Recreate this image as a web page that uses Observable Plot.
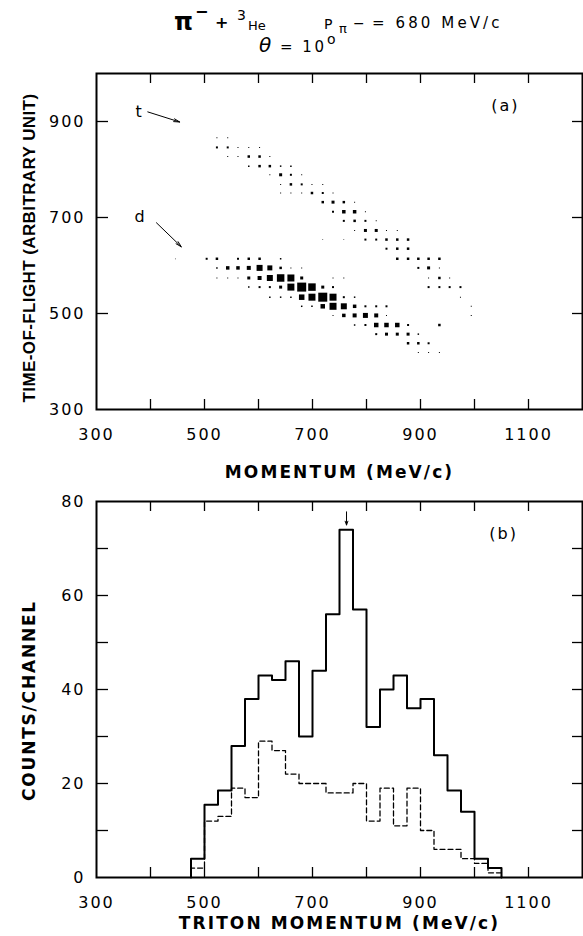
<!DOCTYPE html>
<html><head><meta charset="utf-8">
<script src="https://cdn.jsdelivr.net/npm/d3@7"></script>
<script src="https://cdn.jsdelivr.net/npm/@observablehq/plot@0.6"></script>
<style>
html,body{margin:0;padding:0;background:#fff;}
#wrap{position:relative;width:583px;height:936px;overflow:hidden;font-family:"DejaVu Sans",sans-serif;color:#000;}
.t{position:absolute;white-space:nowrap;line-height:1;}
#pa{position:absolute;left:0;top:55px;}
#pb{position:absolute;left:0;top:490px;}
</style></head><body><div id="wrap">
<div id="pa"></div><div id="pb"></div>
<span class="t" style="left:174px;top:9.7px;font-size:24px;font-weight:bold;">π</span>
<span class="t" style="left:195px;top:4px;font-size:16px;font-weight:bold;">−</span>
<span class="t" style="left:215px;top:15px;font-size:16px;font-weight:bold;">+</span>
<span class="t" style="left:237px;top:8.2px;font-size:14px;">3</span>
<span class="t" style="left:248px;top:19px;font-size:13px;">He</span>
<span class="t" style="left:324px;top:16.7px;font-size:14px;">P</span>
<span class="t" style="left:339px;top:22px;font-size:13px;">π</span>
<span class="t" style="left:353px;top:15.7px;font-size:14px;">−</span>
<span class="t" style="left:372px;top:16.3px;font-size:15px;letter-spacing:3.1px;">= 680 MeV/c</span>
<span class="t" style="left:259px;top:35px;font-size:20px;font-style:italic;">θ</span>
<span class="t" style="left:280px;top:40.3px;font-size:15px;letter-spacing:2.5px;">= 10</span>
<span class="t" style="left:327px;top:32px;font-size:14px;">o</span>
</div>
<script>
// ---------- panel (a): time-of-flight vs momentum ----------
const momCols = [504, 523, 543, 562, 582, 602, 621, 641, 660, 680, 699, 719, 738, 758, 778, 798, 818, 837, 857, 877, 896, 915, 935, 954, 974, 994];
const tofRows = [866, 846, 827, 807, 789, 769, 751, 732, 712, 693, 673, 654, 635, 614, 595, 574, 555, 534, 515, 496, 476, 457, 438, 419];
// [row index, column index, weight]
const cellsA = [
 [0,1,1],[0,2,1],
 [1,1,2],[1,2,2],[1,3,1],[1,4,1],[1,5,1],
 [2,2,1],[2,3,1],[2,4,2.5],[2,5,2.5],[2,6,1],
 [3,4,1.5],[3,5,2.5],[3,6,2.5],[3,7,1.5],[3,8,1.5],
 [4,6,1],[4,7,3],[4,8,2],[4,9,1],
 [5,7,1],[5,8,2.5],[5,9,2],[5,10,1],[5,11,1],
 [6,7,1],[6,8,1],[6,9,1],[6,10,2.5],[6,11,2],[6,12,1],
 [7,11,2.5],[7,12,3],[7,13,2.5],[7,14,1],
 [8,12,2],[8,13,3.5],[8,14,3.5],[8,15,1],
 [9,13,2],[9,14,2.5],[9,15,2],[9,16,1],
 [10,14,1],[10,15,3],[10,16,3],[10,17,1],[10,18,1],
 [11,11,0.7],[11,13,0.7],[11,15,2],[11,16,2],[11,17,2.5],[11,18,2.5],[11,19,2.5],
 [12,17,2],[12,18,2.5],[12,19,2.5],
 [13,0,2],[13,1,2.5],[13,3,2],[13,4,2.5],[13,5,2.5],[13,7,1.5],
 [13,18,2.5],[13,19,2.5],[13,20,2.5],[13,21,2.5],[13,22,2.5],
 [14,1,1.5],[14,2,3.5],[14,3,3.5],[14,4,4],[14,5,6],[14,6,5],[14,7,2.5],[14,8,1],[14,9,1],
 [14,20,2],[14,21,3],[14,22,1],
 [15,1,1],[15,2,1],[15,3,1],[15,4,3],[15,5,4],[15,6,6],[15,7,7.5],[15,8,7],[15,9,3],[15,12,1],[15,13,1],
 [15,21,1],[15,22,2.5],[15,23,1],
 [16,4,1.5],[16,5,2],[16,6,2],[16,7,3],[16,8,7],[16,9,9],[16,10,7.5],[16,11,3],[16,12,2],
 [16,21,2],[16,22,2],[16,23,2],[16,24,2],
 [17,6,1.5],[17,7,1.5],[17,8,1.5],[17,9,5.5],[17,10,7],[17,11,9],[17,12,7],[17,13,2],[17,14,1.5],
 [17,24,1],
 [18,9,1.5],[18,10,1.5],[18,11,4.5],[18,12,7],[18,13,6],[18,14,3.5],[18,15,2],[18,16,2],[18,17,2],
 [18,25,1],
 [19,12,1],[19,13,3.5],[19,14,4],[19,15,5],[19,16,4],[19,17,1],[19,25,1],
 [20,14,1.5],[20,15,2],[20,16,4.5],[20,17,4.5],[20,18,4.5],[20,19,2],[20,22,2.5],
 [21,16,2],[21,17,3],[21,18,3],[21,19,3],[21,20,1.5],
 [22,19,2.5],[22,20,2.5],[22,21,2],
 [23,20,1],[23,21,1],[23,22,1]
];
const strayCells = [[446, 614, 0.7]]; // [momentum, tof, weight]
const xTicks = [400, 500, 600, 700, 800, 900, 1000, 1100];
const xTickLabels = [300, 500, 700, 900, 1100];
const yTicksA = [500, 700, 900];
const yTickLabelsA = [300, 500, 700, 900];
const labelsA = [{p: 378, t: 921, s: "t"}, {p: 380, t: 702, s: "d"}, {p: 1057, t: 932, s: "(a)"}];
const arrowsA = [{p1: 395, t1: 920, p2: 454, t2: 899}, {p1: 411, t1: 689, p2: 457, t2: 639}];

// ---------- panel (b): triton momentum spectrum ----------
const binEdges = [475, 500, 525, 550, 575, 600, 625, 650, 675, 700, 725, 750, 775, 800, 825, 850, 875, 900, 925, 950, 975, 1000, 1025, 1050];
const countsSolid = [4, 15.5, 18.5, 28, 38, 43, 42, 46, 30, 44, 56, 74, 57, 32, 40, 43, 36, 38, 26, 18.5, 14, 4, 2];
const countsDashed = [2, 12, 13, 19, 17, 29, 27, 22, 20, 20, 18, 18, 20, 12, 19, 11, 19, 10, 6, 6, 4, 3, 1];
const yTicksB = [10, 20, 30, 40, 50, 60, 70];
const yTickLabelsB = [0, 20, 40, 60, 80];
const labelsB = [{p: 1054, c: 73.2, s: "(b)"}];
const arrowsB = [{p1: 763, c1: 77.8, p2: 763, c2: 75}];

const cellTable = cellsA.map(([r, k, w]) => ({p: momCols[k], t: tofRows[r], w}))
  .concat(strayCells.map(([p, t, w]) => ({p, t, w})));
function steps(edges, vals) {
  const pts = [{x: edges[0], y: 0}];
  vals.forEach((v, i) => { pts.push({x: edges[i], y: v}, {x: edges[i + 1], y: v}); });
  pts.push({x: edges[edges.length - 1], y: 0});
  return pts;
}
const FONT = "DejaVu Sans";
const fmt = d => String(d);

const plotA = Plot.plot({
  width: 583, height: 435,
  marginTop: 18, marginBottom: 81, marginLeft: 96, marginRight: 1,
  style: {fontFamily: FONT, fontSize: "16px", background: "transparent", color: "black", overflow: "visible"},
  x: {domain: [300, 1200]},
  y: {domain: [300, 1000]},
  r: {type: "linear", domain: [0, 10], range: [0, 10 / Math.sqrt(Math.PI)]},
  marks: [
    Plot.dot(cellTable, {x: "p", y: "t", r: "w", symbol: "square", fill: "black", stroke: null}),
    Plot.frame({stroke: "black", strokeWidth: 2}),
    Plot.tickX(xTicks, {x: d => d, insetTop: 326, strokeWidth: 1.3}),
    Plot.tickX(xTicks, {x: d => d, insetBottom: 326, strokeWidth: 1.3}),
    Plot.tickY(yTicksA, {y: d => d, insetRight: 474, strokeWidth: 1.3}),
    Plot.tickY(yTicksA, {y: d => d, insetLeft: 476, strokeWidth: 1.3}),
    Plot.axisX(xTickLabels, {tickSize: 0, tickPadding: 19, label: null, tickFormat: fmt}),
    Plot.axisY(yTickLabelsA, {tickSize: 0, tickPadding: 11, label: null, tickFormat: fmt}),
    Plot.text(["MOMENTUM (MeV/c)"], {frameAnchor: "bottom", lineAnchor: "middle", dy: 63, fontWeight: "bold", fontSize: 17}),
    Plot.text(["TIME-OF-FLIGHT (ARBITRARY UNIT)"], {frameAnchor: "left", textAnchor: "middle", lineAnchor: "middle", rotate: -90, dx: -67, dy: 6.5, fontWeight: "bold", fontSize: 17, fontFamily: "Liberation Sans"}),
    Plot.text(labelsA, {x: "p", y: "t", text: "s", fontSize: 16}),
    Plot.arrow(arrowsA, {x1: "p1", y1: "t1", x2: "p2", y2: "t2", strokeWidth: 1, headLength: 9, headAngle: 28})
  ]
});

const plotB = Plot.plot({
  width: 583, height: 446,
  marginTop: 11, marginBottom: 59, marginLeft: 96, marginRight: 1,
  style: {fontFamily: FONT, fontSize: "16px", background: "transparent", color: "black", overflow: "visible"},
  x: {domain: [300, 1200]},
  y: {domain: [0, 80]},
  marks: [
    Plot.line(steps(binEdges, countsDashed), {x: "x", y: "y", stroke: "black", strokeWidth: 1.3, strokeDasharray: "5,3"}),
    Plot.line(steps(binEdges, countsSolid), {x: "x", y: "y", stroke: "black", strokeWidth: 2}),
    Plot.frame({stroke: "black", strokeWidth: 2}),
    Plot.tickX(xTicks, {x: d => d, insetTop: 366, strokeWidth: 1.3}),
    Plot.tickX(xTicks, {x: d => d, insetBottom: 366, strokeWidth: 1.3}),
    Plot.tickY(yTicksB, {y: d => d, insetRight: 474, strokeWidth: 1.3}),
    Plot.tickY(yTicksB, {y: d => d, insetLeft: 476, strokeWidth: 1.3}),
    Plot.axisX(xTickLabels, {tickSize: 0, tickPadding: 19, label: null, tickFormat: fmt}),
    Plot.axisY(yTickLabelsB, {tickSize: 0, tickPadding: 11, label: null, tickFormat: fmt}),
    Plot.text(["TRITON MOMENTUM (MeV/c)"], {frameAnchor: "bottom", lineAnchor: "middle", dy: 46, fontWeight: "bold", fontSize: 17}),
    Plot.text(["COUNTS/CHANNEL"], {frameAnchor: "left", textAnchor: "middle", lineAnchor: "middle", rotate: -90, dx: -67, dy: 11, fontWeight: "bold", fontSize: 17}),
    Plot.text(labelsB, {x: "p", y: "c", text: "s", fontSize: 16}),
    Plot.arrow(arrowsB, {x1: "p1", y1: "c1", x2: "p2", y2: "c2", strokeWidth: 1, headLength: 6, headAngle: 40})
  ]
});

function spacing(svg) {
  d3.select(svg).selectAll("text").each(function () {
    const s = this.textContent;
    let ls = 2;
    if (/FLIGHT/.test(s)) ls = 0.4;
    else if (/CHANNEL/.test(s)) ls = 1.8;
    else if (/MOMENTUM/.test(s)) ls = 2.1;
    else if (s === "t" || s === "d") ls = 0;
    d3.select(this).style("letter-spacing", ls + "px");
  });
}
spacing(plotA); spacing(plotB);
document.getElementById("pa").appendChild(plotA);
document.getElementById("pb").appendChild(plotB);
</script></body></html>
